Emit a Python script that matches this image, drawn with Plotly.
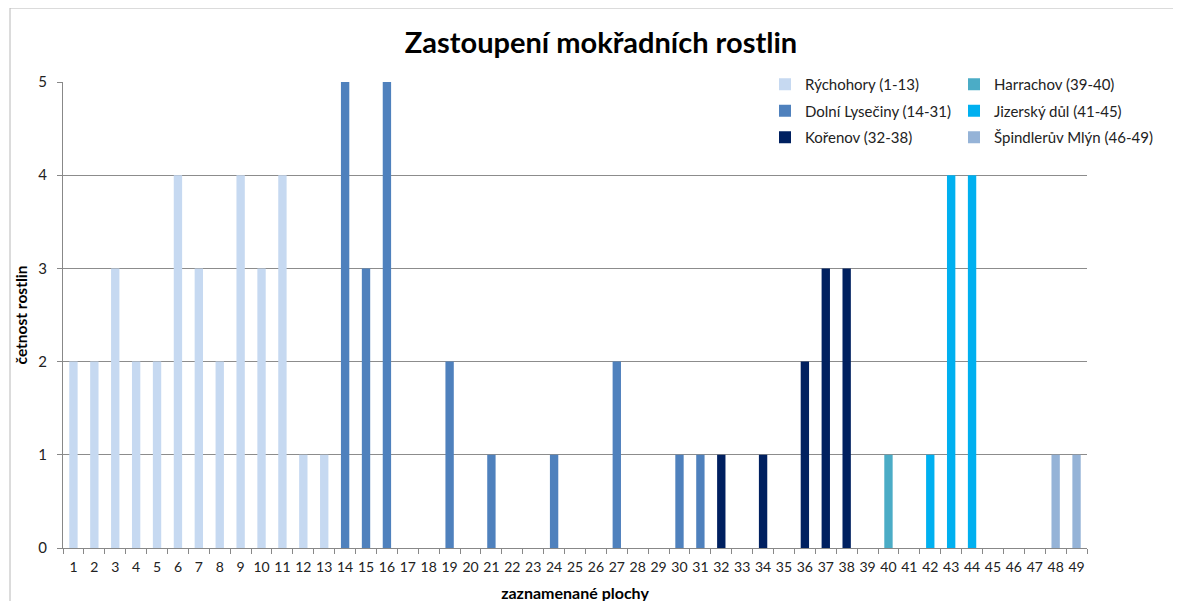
import plotly.graph_objects as go

categories = [str(i) for i in range(1, 50)]

groups = ["Rýchohory (1-13)", "Dolní Lysečiny (14-31)", "Kořenov (32-38)",
          "Harrachov (39-40)", "Jizerský důl (41-45)", "Špindlerův Mlýn (46-49)"]
group_ranges = [(1, 13), (14, 31), (32, 38), (39, 40), (41, 45), (46, 49)]
colors = ["#C6D9F1", "#4F81BD", "#002060", "#4BACC6", "#00B0F0", "#95B3D7"]

ry = [2, 2, 3, 2, 2, 4, 3, 2, 4, 3, 4, 1, 1]
dl = [5, 3, 5, 0, 0, 2, 0, 1, 0, 0, 1, 0, 0, 2, 0, 0, 1, 1]
ko = [1, 0, 1, 0, 2, 3, 3]
ha = [0, 1]
jd = [0, 1, 4, 4, 0]
sm = [0, 0, 1, 1]
values = [ry, dl, ko, ha, jd, sm]

FONT = "Lato"
W, H = 1181, 601
OFF = 8  # page body margin shifts the figure by 8px

fig = go.Figure()
legends = ["legend", "legend", "legend", "legend2", "legend2", "legend2"]
for i, (name, (a, b), col, vals) in enumerate(zip(groups, group_ranges, colors, values)):
    fig.add_trace(go.Bar(
        x=categories[a - 1:b], y=vals, name=name,
        marker=dict(color=col, line=dict(width=0)),
        width=0.4, legend=legends[i], legendgroup=name,
    ))

legend_common = dict(
    xref="container", yref="container", xanchor="left", yanchor="top",
    font=dict(family=FONT, size=15, color="#222"), bgcolor="rgba(0,0,0,0)",
    tracegroupgap=4, traceorder="grouped", itemwidth=30,
)

L, R, T, B = 63 - OFF, 1087 - OFF, 82 - OFF, 548 - OFF
PW, PH = R - L, B - T

fig.update_layout(
    width=W, height=H,
    paper_bgcolor="white", plot_bgcolor="white",
    margin=dict(l=L, r=W - R, t=T, b=H - B, autoexpand=False),
    barmode="overlay",
    showlegend=True,
    title=dict(text="<b>Zastoupení mokřadních rostlin</b>", x=(601 - OFF) / W, xanchor="center",
               xref="container",
               y=1 - (43 - OFF) / H, yanchor="middle", yref="container",
               font=dict(family=FONT, size=29, color="#000")),
    font=dict(family=FONT, size=14, color="#222"),
    legend=dict(x=(765 - OFF) / W, y=1 - (68 - OFF) / H, **legend_common),
    legend2=dict(x=(954 - OFF) / W, y=1 - (68 - OFF) / H, **legend_common),
    xaxis=dict(
        type="category", categoryorder="array", categoryarray=categories,
        tickmode="array", tickvals=categories, ticktext=categories, tickangle=0,
        tickson="boundaries", ticks="outside", ticklen=5, tickcolor="#888",
        ticklabelstandoff=6,
        showline=True, linecolor="#888", linewidth=1, showgrid=False,
        tickfont=dict(family=FONT, size=14, color="#222"),
        title=dict(text="<b>zaznamenané plochy</b>", standoff=14,
                   font=dict(family=FONT, size=16, color="#000")),
        range=[-0.5, 48.5], fixedrange=True,
    ),
    yaxis=dict(
        range=[0, 5], dtick=1, tick0=0,
        ticks="outside", ticklen=5, tickcolor="#888",
        ticklabelstandoff=7,
        showline=True, linecolor="#888", linewidth=1,
        showgrid=True, gridcolor="#8c8c8c", gridwidth=1,
        zeroline=False,
        tickfont=dict(family=FONT, size=15, color="#222"),
        title=dict(text="<b>četnost rostlin</b>", standoff=6,
                   font=dict(family=FONT, size=15.5, color="#000")),
    ),
)

# outer chart frame (top and left edges visible)
fx = (10 - OFF - L) / PW
fy = 1 + (T - (8 - OFF)) / PH
fig.add_shape(type="line", xref="paper", yref="paper",
              x0=fx, x1=(W - L) / PW, y0=fy, y1=fy,
              line=dict(color="#b8b8b8", width=1))
fig.add_shape(type="line", xref="paper", yref="paper",
              x0=fx, x1=fx, y0=fy, y1=-(H - B) / PH,
              line=dict(color="#b8b8b8", width=1))

fig.write_html("out.html")
